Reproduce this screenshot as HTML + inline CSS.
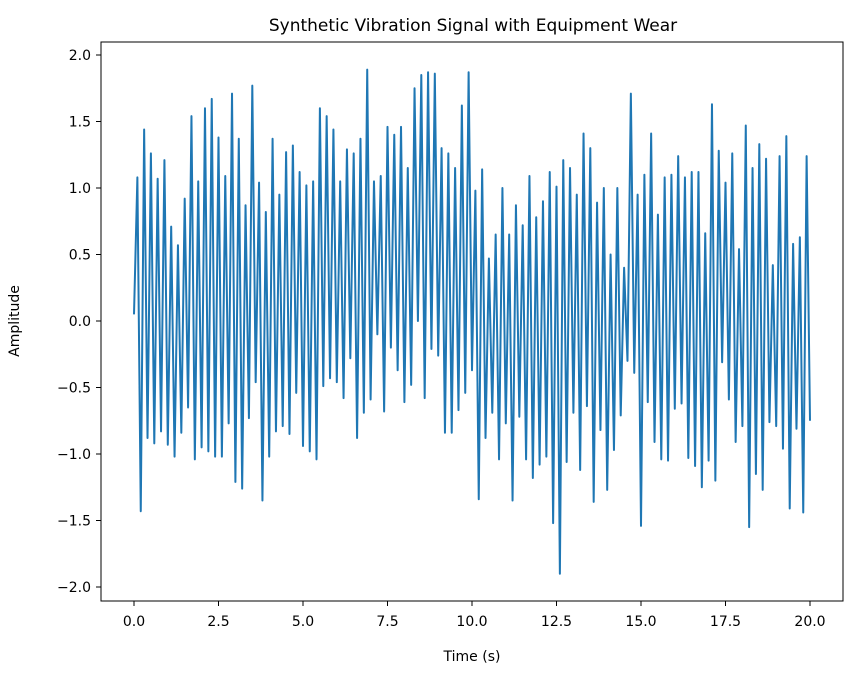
<!DOCTYPE html>
<html><head><meta charset="utf-8"><style>
body{margin:0;background:#fff;}
svg{display:block;font-family:"DejaVu Sans","Liberation Sans",sans-serif;}
</style></head><body>
<svg id="chart" width="859" height="676" viewBox="0 0 859 676" xmlns="http://www.w3.org/2000/svg">
<text x="473" y="31" text-anchor="middle" font-size="17" fill="#000">Synthetic Vibration Signal with Equipment Wear</text>
<text x="472" y="661" text-anchor="middle" font-size="14" fill="#000">Time (s)</text>
<text transform="translate(19,321) rotate(-90)" text-anchor="middle" font-size="14" fill="#000">Amplitude</text>
<g id="xticks"></g>
<g id="yticks"></g>
<path id="line" fill="none" stroke="#1f77b4" stroke-width="2" stroke-linejoin="round"/>
<rect x="101" y="42" width="742" height="559" fill="none" stroke="#000" stroke-width="1"/>
</svg>
<script>
const xTickValues=[0,2.5,5,7.5,10,12.5,15,17.5,20];
const xTickLabels=["0.0","2.5","5.0","7.5","10.0","12.5","15.0","17.5","20.0"];
const yTickValues=[-2,-1.5,-1,-0.5,0,0.5,1,1.5,2];
const yTickLabels=["\u22122.0","\u22121.5","\u22121.0","\u22120.5","0.0","0.5","1.0","1.5","2.0"];
const timeStep=0.1;
const amplitude=[0.05,1.08,-1.43,1.44,-0.88,1.26,-0.92,1.07,-0.83,1.21,-0.93,0.71,-1.02,0.57,-0.84,0.92,-0.65,1.54,-1.04,1.05,-0.95,1.60,-0.98,1.67,-1.02,1.38,-1.02,1.09,-0.77,1.71,-1.21,1.37,-1.26,
0.87,-0.73,1.77,-0.46,1.04,-1.35,0.82,-1.02,1.37,-0.83,0.95,-0.79,1.27,-0.85,1.32,-0.54,1.12,-0.94,1.02,-0.98,1.05,-1.04,1.60,-0.49,1.54,-0.43,1.44,-0.46,1.05,-0.58,1.29,-0.28,1.26,-0.88,
1.37,-0.69,1.89,-0.59,1.05,-0.10,1.09,-0.68,1.46,-0.20,1.40,-0.37,1.46,-0.61,1.15,-0.48,1.75,0.00,1.85,-0.58,1.87,-0.21,1.86,-0.26,1.30,-0.84,1.26,-0.84,1.15,-0.67,1.62,-0.54,
1.87,-0.37,0.98,-1.34,1.14,-0.88,0.47,-0.69,0.65,-1.04,1.00,-0.77,0.65,-1.35,0.87,-0.72,0.72,-1.04,1.09,-1.18,0.78,-1.08,0.90,-1.02,1.12,-1.52,1.01,-1.90,1.21,-1.06,1.15,-0.69,0.95,
-1.12,1.41,-0.64,1.30,-1.36,0.89,-0.82,1.00,-1.27,0.50,-0.97,1.00,-0.71,0.40,-0.30,1.71,-0.39,0.95,-1.54,1.10,-0.61,1.41,-0.91,0.80,-1.04,1.08,-1.05,1.10,-0.66,1.24,-0.62,1.08,-1.03,
1.12,-1.09,1.12,-1.25,0.66,-1.05,1.63,-1.20,1.28,-0.31,1.04,-0.59,1.26,-0.91,0.54,-0.79,1.47,-1.55,1.15,-1.15,1.33,-1.27,1.22,-0.76,0.42,-0.79,1.24,-0.96,1.39,-1.41,0.58,-0.81,0.63,-1.44,1.24,-0.75];
const NS="http://www.w3.org/2000/svg";
function xPos(v){return 134+(v-0)*(810-134)/20;}
function yPos(v){return 321-v*133;}
const xg=document.getElementById('xticks');
xTickValues.forEach((v,i)=>{
  const l=document.createElementNS(NS,'line');
  
  
  l.setAttribute('x1',xPos(v));l.setAttribute('x2',xPos(v));
  l.setAttribute('y1',601);l.setAttribute('y2',606);l.setAttribute('stroke','#000');
  xg.appendChild(l);
  const t=document.createElementNS(NS,'text');
  
  
  t.setAttribute('x',xPos(v));t.setAttribute('y',626);
  t.setAttribute('text-anchor','middle');t.setAttribute('font-size','14');
  t.textContent=xTickLabels[i];
  xg.appendChild(t);
});
const yg=document.getElementById('yticks');
yTickValues.forEach((v,i)=>{
  const l=document.createElementNS(NS,'line');
  
  
  l.setAttribute('x1',96);l.setAttribute('x2',101);
  l.setAttribute('y1',yPos(v));l.setAttribute('y2',yPos(v));l.setAttribute('stroke','#000');
  yg.appendChild(l);
  const t=document.createElementNS(NS,'text');
  
  
  t.setAttribute('x',91);t.setAttribute('y',yPos(v)+5);
  t.setAttribute('text-anchor','end');t.setAttribute('font-size','14');
  t.textContent=yTickLabels[i];
  yg.appendChild(t);
});
let d='';
amplitude.forEach((v,i)=>{d+=(i?'L':'M')+xPos(i*timeStep).toFixed(2)+' '+yPos(v).toFixed(2);});
document.getElementById('line').setAttribute('d',d);
</script>
</body></html>
